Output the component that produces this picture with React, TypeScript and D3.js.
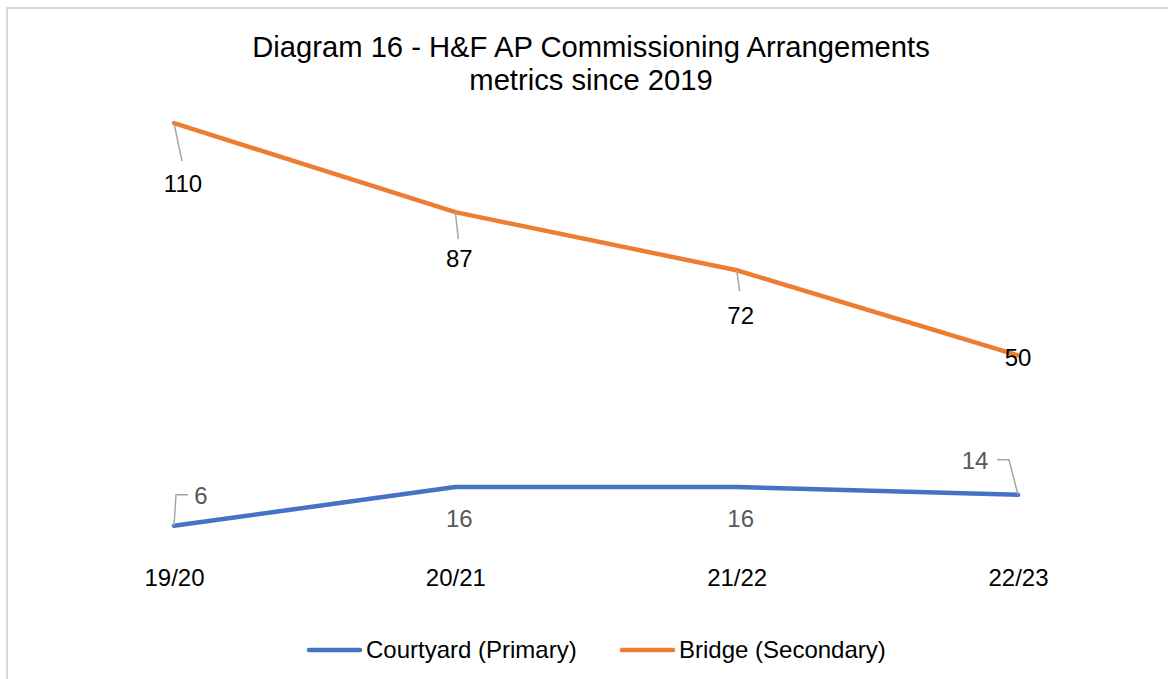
import React, { useEffect, useRef } from 'react';
import * as d3 from 'd3';

const categories = ['19/20', '20/21', '21/22', '22/23'];
const courtyard = [6, 16, 16, 14];
const bridge = [110, 87, 72, 50];
const seriesNames = ['Courtyard (Primary)', 'Bridge (Secondary)'];
const titleLines = ['Diagram 16 - H&F AP Commissioning Arrangements', 'metrics since 2019'];

const W = 1168;
const H = 679;
const FONT = '"Liberation Sans", Arial, sans-serif';
const colors = ['#4472C4', '#ED7D31'];

// label placement, relative to the point (dx, dy of label centre; leader path)
const bridgeLabels = [
  { dx: 9, dy: 60, leader: [[0, 0], [8, 38]] },
  { dx: 4, dy: 46, leader: [[0, 0], [3, 27]] },
  { dx: 4, dy: 45, leader: [[0, 0], [3, 21]] },
  { dx: 0, dy: 2, leader: null },
];
const courtyardLabels = [
  { dx: 27, dy: -30, leader: [[0, 0], [2, -31], [14, -31]] },
  { dx: 4, dy: 31, leader: null },
  { dx: 4, dy: 31, leader: null },
  { dx: -43, dy: -34, leader: [[0, 0], [-9, -35], [-21, -35]] },
];

export default function App() {
  const svgRef = useRef<SVGSVGElement>(null);

  useEffect(() => {
    document.body.style.margin = '0';
    const svg = d3.select(svgRef.current);
    svg.selectAll('*').remove();

    svg.append('rect').attr('width', W).attr('height', H).attr('fill', '#fff');
    // chart border (right and bottom fall outside the page)
    svg.append('rect')
      .attr('x', 7).attr('y', 8).attr('width', 1170).attr('height', 700)
      .attr('fill', 'none').attr('stroke', '#d9d9d9').attr('stroke-width', 2);

    svg.append('text')
      .attr('x', 591).attr('y', 57)
      .attr('text-anchor', 'middle')
      .style('font-family', FONT).style('font-size', '29.2px').attr('fill', '#000')
      .selectAll('tspan').data(titleLines).join('tspan')
      .attr('x', 591).attr('dy', (d, i) => (i === 0 ? 0 : 33))
      .text(d => d);

    const x = d3.scalePoint().domain(categories).range([174, 1018]);
    const y = d3.scaleLinear().domain([0, 120]).range([549, 84.4]);

    const xAxis = svg.append('g').attr('transform', 'translate(0,549)')
      .call(d3.axisBottom(x).tickSize(0).tickPadding(20));
    xAxis.select('.domain').remove();
    xAxis.selectAll('text')
      .style('font-family', FONT).style('font-size', '24px').attr('fill', '#000');

    const line = d3.line<number>()
      .x((d, i) => x(categories[i]) as number)
      .y(d => y(d));

    const series = [courtyard, bridge];
    const labelSets = [courtyardLabels, bridgeLabels];
    const labelColors = ['#595959', '#000'];

    series.forEach((vals, s) => {
      svg.append('path')
        .datum(vals)
        .attr('d', line)
        .attr('fill', 'none')
        .attr('stroke', colors[s])
        .attr('stroke-width', 4.5)
        .attr('stroke-linecap', 'round')
        .attr('stroke-linejoin', 'round');

      vals.forEach((v, i) => {
        const px = x(categories[i]) as number;
        const py = y(v);
        const lab = labelSets[s][i];
        if (lab.leader) {
          svg.append('path')
            .attr('d', d3.line()(lab.leader.map(p => [px + p[0], py + p[1]] as [number, number])))
            .attr('fill', 'none').attr('stroke', '#a6a6a6').attr('stroke-width', 1.5);
        }
        svg.append('text')
          .attr('x', px + lab.dx).attr('y', py + lab.dy)
          .attr('text-anchor', 'middle').attr('dominant-baseline', 'central')
          .style('font-family', FONT).style('font-size', '24px')
          .attr('fill', labelColors[s])
          .text(v);
      });
    });

    const legendX = [307, 620];
    seriesNames.forEach((name, s) => {
      const g = svg.append('g').attr('transform', `translate(${legendX[s]},650)`);
      g.append('line').attr('x1', 2).attr('x2', 53).attr('y1', 0).attr('y2', 0)
        .attr('stroke', colors[s]).attr('stroke-width', 4.5).attr('stroke-linecap', 'round');
      g.append('text').attr('x', 59).attr('y', 8)
        .style('font-family', FONT).style('font-size', '24px').attr('fill', '#000')
        .text(name);
    });
  }, []);

  return (
    <svg ref={svgRef} width={W} height={H} style={{ position: 'absolute', left: 0, top: 0 }} />
  );
}
